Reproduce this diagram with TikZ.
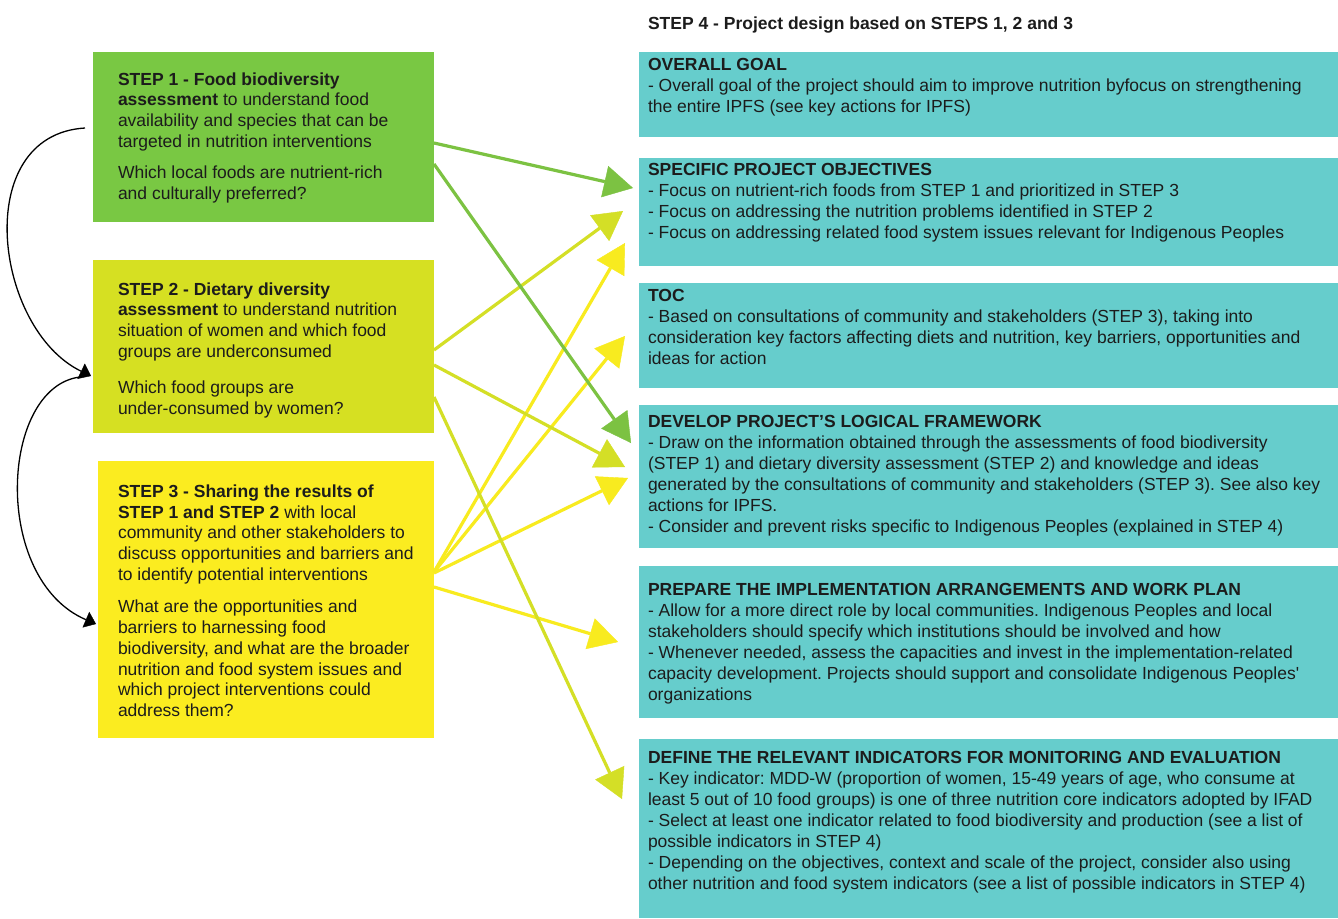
\documentclass[tikz,border=0pt]{standalone}
\usepackage{fontspec}
\setmainfont{Liberation Sans}
\usetikzlibrary{arrows.meta,calc}
\definecolor{boxgreen}{HTML}{79C843}
\definecolor{boxlime}{HTML}{D6E022}
\definecolor{boxyellow}{HTML}{FBEC20}
\definecolor{boxteal}{HTML}{66CDCC}
\definecolor{arrgreen}{HTML}{7CC242}
\definecolor{arrlime}{HTML}{D4DF26}
\definecolor{arryellow}{HTML}{F8EB1F}
\definecolor{txtc}{HTML}{1C1C1C}
\frenchspacing
\begin{document}
\begin{tikzpicture}[x=1pt,y=-1pt,
  box/.style={anchor=north west, inner sep=0pt, outer sep=0pt, draw=none},
  ltxt/.style={anchor=north west, inner sep=0pt, outer sep=0pt, align=left, text=txtc,
    font=\fontsize{17.5}{20.7}\selectfont},
  rtxt/.style={anchor=north west, inner sep=0pt, outer sep=0pt, align=left, text=txtc,
    font=\fontsize{17.5}{21}\selectfont},
  fat/.style={line width=3.2pt, -{Triangle[length=29pt,width=32pt,line width=0.4pt]}},
  loopar/.style={line width=1.3pt, draw=black, -{Triangle[length=11pt,width=17pt,line width=0.4pt]}}
]
\useasboundingbox (0,0) rectangle (1338,918);
\fill[white] (0,0) rectangle (1338,918);

% left boxes
\node[box, fill=boxgreen, minimum width=341pt, minimum height=170pt] (s1) at (93,52) {};
\node[box, fill=boxlime, minimum width=341pt, minimum height=173pt] (s2) at (93,260) {};
\node[box, fill=boxyellow, minimum width=336pt, minimum height=277pt] (s3) at (98,461) {};

% right boxes
\node[box, fill=boxteal, minimum width=699pt, minimum height=84.5pt] (og) at (639,52) {};
\node[box, fill=boxteal, minimum width=699pt, minimum height=108pt] (spec) at (639,158) {};
\node[box, fill=boxteal, minimum width=699pt, minimum height=105pt] (toc) at (639,283) {};
\node[box, fill=boxteal, minimum width=699pt, minimum height=142.5pt] (dev) at (639,405) {};
\node[box, fill=boxteal, minimum width=699pt, minimum height=152pt] (prep) at (639,566) {};
\node[box, fill=boxteal, minimum width=699pt, minimum height=179.5pt] (def) at (639,738.5) {};

% title
\node[rtxt, font=\fontsize{17.5}{21}\selectfont\bfseries] (title) at (648,16.8) {STEP 4 - Project design based on STEPS 1, 2 and 3};

% left texts
\node[ltxt] (s1t) at (118,72.5) {\textbf{STEP 1 - Food biodiversity}\\
\textbf{assessment} to understand food\\
availability and species that can be\\
targeted in nutrition interventions\\[10.5pt]
Which local foods are nutrient-rich\\
and culturally preferred?};

\node[ltxt] (s2t) at (118,282.5) {\textbf{STEP 2 - Dietary diversity}\\
\textbf{assessment} to understand nutrition\\
situation of women and which food\\
groups are underconsumed\\[16pt]
Which food groups are\\
under-consumed by women?};

\node[ltxt] (s3t) at (118,484.8) {\textbf{STEP 3 - Sharing the results of}\\
\textbf{STEP 1 and STEP 2} with local\\
community and other stakeholders to\\
discuss opportunities and barriers and\\
to identify potential interventions\\[12pt]
What are the opportunities and\\
barriers to harnessing food\\
biodiversity, and what are the broader\\
nutrition and food system issues and\\
which project interventions could\\
address them?};

% right texts
\node[rtxt] (ogt) at (648,58.5) {\textbf{OVERALL GOAL}\\
- Overall goal of the project should aim to improve nutrition byfocus on strengthening\\
the entire IPFS (see key actions for IPFS)};

\node[rtxt] (spect) at (648,163.5) {\textbf{SPECIFIC PROJECT OBJECTIVES}\\
- Focus on nutrient-rich foods from STEP 1 and prioritized in STEP 3\\
- Focus on addressing the nutrition problems identified in STEP 2\\
- Focus on addressing related food system issues relevant for Indigenous Peoples};

\node[rtxt] (toct) at (648,289.2) {\textbf{TOC}\\
- Based on consultations of community and stakeholders (STEP 3), taking into\\
consideration key factors affecting diets and nutrition, key barriers, opportunities and\\
ideas for action};

\node[rtxt] (devt) at (648,415.2) {\textbf{DEVELOP PROJECT’S LOGICAL FRAMEWORK}\\
- Draw on the information obtained through the assessments of food biodiversity\\
(STEP 1) and dietary diversity assessment (STEP 2) and knowledge and ideas\\
generated by the consultations of community and stakeholders (STEP 3). See also key\\
actions for IPFS.\\
- Consider and prevent risks specific to Indigenous Peoples (explained in STEP 4)};

\node[rtxt] (prept) at (648,583.5) {\textbf{PREPARE THE IMPLEMENTATION ARRANGEMENTS AND WORK PLAN}\\
- Allow for a more direct role by local communities. Indigenous Peoples and local\\
stakeholders should specify which institutions should be involved and how\\
- Whenever needed, assess the capacities and invest in the implementation-related\\
capacity development. Projects should support and consolidate Indigenous Peoples\textquotesingle\\
organizations};

\node[rtxt] (deft) at (648,751.2) {\textbf{DEFINE THE RELEVANT INDICATORS FOR MONITORING AND EVALUATION}\\
- Key indicator: MDD-W (proportion of women, 15-49 years of age, who consume at\\
least 5 out of 10 food groups) is one of three nutrition core indicators adopted by IFAD\\
- Select at least one indicator related to food biodiversity and production (see a list of\\
possible indicators in STEP 4)\\
- Depending on the objectives, context and scale of the project, consider also using\\
other nutrition and food system indicators (see a list of possible indicators in STEP 4)};

% arrows from STEP 3 (yellow)
\draw[fat, draw=arryellow, fill=arryellow] ($(s3.north east)+(0,111)$) -- ($(spec.north west)+(-14,85)$);
\draw[fat, draw=arryellow, fill=arryellow] ($(s3.north east)+(0,111)$) -- ($(toc.north west)+(-14,53)$);
\draw[fat, draw=arryellow, fill=arryellow] ($(s3.north east)+(0,112)$) -- ($(dev.north west)+(-11,73)$);
\draw[fat, draw=arryellow, fill=arryellow] ($(s3.north east)+(0,126)$) -- ($(prep.north west)+(-21,76)$);
% arrows from STEP 2 (lime)
\draw[fat, draw=arrlime, fill=arrlime] ($(s2.north east)+(0,90)$) -- ($(spec.north west)+(-16,53)$);
\draw[fat, draw=arrlime, fill=arrlime] ($(s2.north east)+(0,105)$) -- ($(dev.north west)+(-14,62)$);
\draw[fat, draw=arrlime, fill=arrlime] ($(s2.north east)+(0,137)$) -- ($(def.north west)+(-17,60.5)$);
% arrows from STEP 1 (green)
\draw[fat, draw=arrgreen, fill=arrgreen] ($(s1.north east)+(0,91)$) -- ($(spec.north west)+(-6,30)$);
\draw[fat, draw=arrgreen, fill=arrgreen] ($(s1.north east)+(0,112)$) -- ($(dev.north west)+(-8,38)$);

% curved black arrows
\draw[loopar] ($(s1.north west)+(-8,76)$) .. controls +(-115,7) and +(-97,-47) .. ($(s2.north west)+(-2,116)$);
\draw[loopar] ($(s2.north west)+(-13,117)$) .. controls +(-80,10) and +(-105,-45) .. ($(s3.north west)+(-2,163)$);
\end{tikzpicture}
\end{document}
